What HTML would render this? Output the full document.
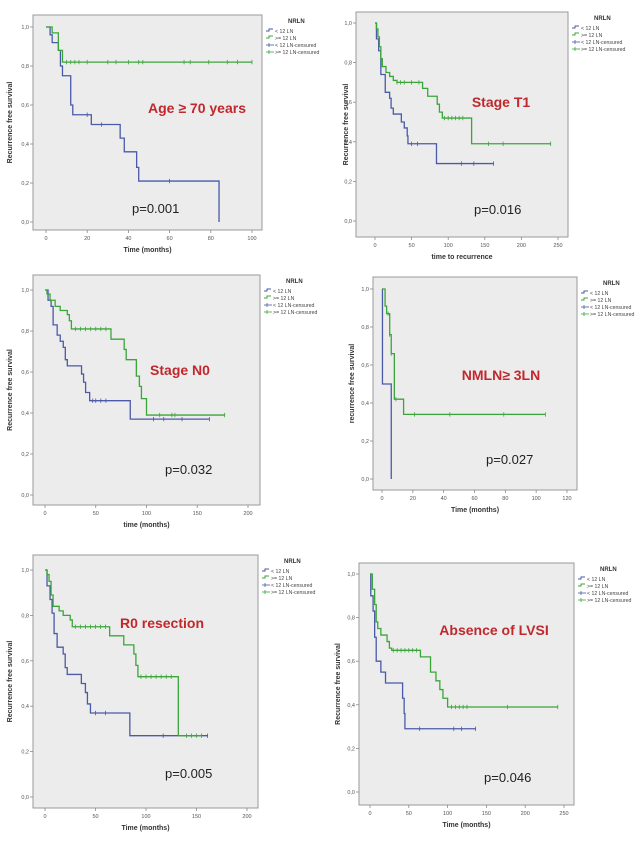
<!DOCTYPE html>
<html><head><meta charset="utf-8"><style>
html,body{margin:0;padding:0;background:#fff;}
svg{display:block;font-family:"Liberation Sans",sans-serif;}
</style></head><body>
<svg id="fig" width="642" height="847" viewBox="0 0 642 847" xmlns="http://www.w3.org/2000/svg"></svg>
<script>
// ---- data (time, survival after step) ----
const p1BlueT=[2,3,6,7,8,12,13,22,36,38,44,45,84];
const p1BlueS=[0.96,0.92,0.88,0.80,0.75,0.60,0.55,0.50,0.43,0.36,0.28,0.21,0.0];
const p1BlueEnd=84;
const p1BlueCens=[20,27,60];
const p1GreenT=[3,6,8];
const p1GreenS=[0.97,0.88,0.82];
const p1GreenEnd=100;
const p1GreenCens=[10,12,14,16,20,30,34,40,45,47,67,70,79,88,93,100];

const p2BlueT=[2,5,8,14,20,22,25,36,40,44,45,84];
const p2BlueS=[0.92,0.86,0.74,0.65,0.62,0.57,0.54,0.50,0.47,0.43,0.39,0.29];
const p2BlueEnd=162;
const p2BlueCens=[50,58,118,135,162];
const p2GreenT=[2,4,6,8,10,15,20,25,30,65,72,85,88,92,132];
const p2GreenS=[0.97,0.93,0.88,0.82,0.78,0.75,0.73,0.71,0.70,0.67,0.63,0.59,0.55,0.52,0.39];
const p2GreenEnd=240;
const p2GreenCens=[30,35,40,50,60,95,100,105,110,115,120,155,175,240];

const p3BlueT=[3,6,8,12,15,18,20,22,36,38,40,44,84];
const p3BlueS=[0.95,0.92,0.83,0.78,0.75,0.72,0.66,0.63,0.59,0.55,0.50,0.46,0.37];
const p3BlueEnd=162;
const p3BlueCens=[47,50,55,60,107,117,135,162];
const p3GreenT=[2,5,10,15,22,24,26,65,78,80,90,93,95,100];
const p3GreenS=[0.98,0.95,0.92,0.90,0.88,0.85,0.81,0.76,0.71,0.66,0.58,0.53,0.47,0.39];
const p3GreenEnd=177;
const p3GreenCens=[30,35,40,45,50,55,60,113,125,128,177];

const p4BlueT=[0.3,6];
const p4BlueS=[0.5,0.0];
const p4BlueEnd=6;
const p4BlueCens=[];
const p4GreenT=[2,3,5,6,8,14];
const p4GreenS=[0.91,0.87,0.76,0.66,0.42,0.34];
const p4GreenEnd=106;
const p4GreenCens=[4,5,6,9,21,44,79,106];

const p5BlueT=[2,5,7,9,12,18,20,22,36,40,42,45,84];
const p5BlueS=[0.93,0.87,0.81,0.72,0.66,0.63,0.57,0.54,0.50,0.46,0.41,0.37,0.27];
const p5BlueEnd=161;
const p5BlueCens=[50,60,117,161];
const p5GreenT=[2,4,6,8,14,18,25,27,64,78,88,90,92,132];
const p5GreenS=[0.98,0.95,0.89,0.84,0.82,0.80,0.78,0.75,0.71,0.67,0.63,0.58,0.53,0.27];
const p5GreenEnd=155;
const p5GreenCens=[30,35,40,45,50,55,60,95,100,105,110,115,120,125,140,145,150,155];

const p6BlueT=[1,4,6,8,14,20,42,44,45];
const p6BlueS=[0.90,0.83,0.71,0.60,0.55,0.50,0.43,0.36,0.29];
const p6BlueEnd=136;
const p6BlueCens=[64,108,118,136];
const p6GreenT=[3,6,8,10,14,22,25,28,65,78,85,90,94,100];
const p6GreenS=[0.93,0.86,0.78,0.75,0.72,0.69,0.66,0.65,0.62,0.55,0.51,0.47,0.43,0.39];
const p6GreenEnd=242;
const p6GreenCens=[30,35,40,45,50,55,60,105,110,115,120,125,177,242];

const yTickLabels=["0,0","0,2","0,4","0,6","0,8","1,0"];
const yTickVals=[0,0.2,0.4,0.6,0.8,1.0];
const legendLabels=["< 12 LN",">= 12 LN","< 12 LN-censured",">= 12 LN-censured"];

const panels=[
 {id:1,bx:33,by:15,bw:229,bh:215,x0:46,x1:252,xmax:100,xticks:[0,20,40,60,80,100],y1:27,y0:222,
  xt:"Time (months)",yt:"Recurrence free survival",title:"Age ≥ 70 years",tx:197,ty:113,pv:"p=0.001",px:132,py:213,
  b:[p1BlueT,p1BlueS,p1BlueEnd,p1BlueCens],g:[p1GreenT,p1GreenS,p1GreenEnd,p1GreenCens],ytx:12},
 {id:2,bx:356,by:12,bw:212,bh:225,x0:375,x1:558,xmax:250,xticks:[0,50,100,150,200,250],y1:23,y0:221,
  xt:"time to recurrence",yt:"Recurrence free survival",title:"Stage T1",tx:501,ty:107,pv:"p=0.016",px:474,py:214,
  b:[p2BlueT,p2BlueS,p2BlueEnd,p2BlueCens],g:[p2GreenT,p2GreenS,p2GreenEnd,p2GreenCens],ytx:348},
 {id:3,bx:33,by:275,bw:227,bh:230,x0:45,x1:248,xmax:200,xticks:[0,50,100,150,200],y1:290,y0:495,
  xt:"time (months)",yt:"Recurrence free survival",title:"Stage N0",tx:180,ty:375,pv:"p=0.032",px:165,py:474,
  b:[p3BlueT,p3BlueS,p3BlueEnd,p3BlueCens],g:[p3GreenT,p3GreenS,p3GreenEnd,p3GreenCens],ytx:12},
 {id:4,bx:373,by:277,bw:204,bh:213,x0:382,x1:567,xmax:120,xticks:[0,20,40,60,80,100,120],y1:289,y0:479,
  xt:"Time (months)",yt:"recurrence free survival",title:"NMLN≥ 3LN",tx:501,ty:380,pv:"p=0.027",px:486,py:464,
  b:[p4BlueT,p4BlueS,p4BlueEnd,p4BlueCens],g:[p4GreenT,p4GreenS,p4GreenEnd,p4GreenCens],ytx:354},
 {id:5,bx:33,by:555,bw:225,bh:253,x0:45,x1:247,xmax:200,xticks:[0,50,100,150,200],y1:570,y0:797,
  xt:"Time (months)",yt:"Recurrence free survival",title:"R0 resection",tx:162,ty:628,pv:"p=0.005",px:165,py:778,
  b:[p5BlueT,p5BlueS,p5BlueEnd,p5BlueCens],g:[p5GreenT,p5GreenS,p5GreenEnd,p5GreenCens],ytx:12},
 {id:6,bx:359,by:563,bw:215,bh:242,x0:370,x1:564,xmax:250,xticks:[0,50,100,150,200,250],y1:574,y0:792,
  xt:"Time (months)",yt:"Recurrence free survival",title:"Absence of LVSI",tx:494,ty:635,pv:"p=0.046",px:484,py:782,
  b:[p6BlueT,p6BlueS,p6BlueEnd,p6BlueCens],g:[p6GreenT,p6GreenS,p6GreenEnd,p6GreenCens],ytx:340}
];
const NS="http://www.w3.org/2000/svg";
const svg=document.getElementById('fig');
function mk(tag,attrs,parent){const e=document.createElementNS(NS,tag);for(const k in attrs)e.setAttribute(k,attrs[k]);(parent||svg).appendChild(e);return e;}
const BLUE="#4a5aa8",GREEN="#3aa63a";
panels.forEach(p=>{
  const g=mk('g',{});
  
  
  const sx=t=>p.x0+(t/p.xmax)*(p.x1-p.x0);
  const sy=s=>p.y0-(s)*(p.y0-p.y1);
  const box=mk('rect',{x:p.bx,y:p.by,width:p.bw,height:p.bh,fill:"#ececec",stroke:"#9a9a9a","stroke-width":1},g);
  
  
  yTickVals.forEach((v,i)=>{
    const y=sy(v);
    mk('line',{x1:p.bx-3,x2:p.bx,y1:y,y2:y,stroke:"#888","stroke-width":0.8},g);
    const t=mk('text',{x:p.bx-4,y:y+2,"font-size":5.5,fill:"#555","text-anchor":"end"},g);
    t.textContent=yTickLabels[i];
    
    
  });
  p.xticks.forEach(v=>{
    const x=sx(v);
    mk('line',{x1:x,x2:x,y1:p.by+p.bh,y2:p.by+p.bh+3,stroke:"#888","stroke-width":0.8},g);
    const t=mk('text',{x:x,y:p.by+p.bh+10,"font-size":5.5,fill:"#555","text-anchor":"middle"},g);
    t.textContent=String(v);
    
    
  });
  const xt=mk('text',{x:p.bx+p.bw/2,y:p.by+p.bh+22,"font-size":7,"font-weight":"bold",fill:"#333","text-anchor":"middle"},g);
  xt.textContent=p.xt;
  
  
  const ycy=p.by+p.bh/2;
  const yt=mk('text',{x:p.ytx,y:ycy,"font-size":7,"font-weight":"bold",fill:"#333","text-anchor":"middle",transform:`rotate(-90 ${p.ytx} ${ycy})`},g);
  yt.textContent=p.yt;
  
  
  [[p.b,BLUE,'blue'],[p.g,GREEN,'green']].forEach(([d,col,nm])=>{
    const [T,S,end,C]=d;
    let path=`M${sx(0)},${sy(1)}`;let cur=1;
    T.forEach((t,i)=>{path+=` H${sx(t)} V${sy(S[i])}`;cur=S[i];});
    path+=` H${sx(end)}`;
    const pe=mk('path',{d:path,fill:"none",stroke:col,"stroke-width":1.3},g);
    
    
    const stepAt=t=>{let s=1;T.forEach((tt,i)=>{if(tt<=t)s=S[i];});return s;};
    C.forEach(c=>{
      const x=sx(c),y=sy(stepAt(c));
      const m=mk('line',{x1:x,x2:x,y1:y-2.2,y2:y+2.2,stroke:col,"stroke-width":0.8},g);
      
      
    });
  });
  const ti=mk('text',{x:p.tx,y:p.ty,"font-size":14,"font-weight":"bold",fill:"#c0282d","text-anchor":"middle"},g);
  ti.textContent=p.title;
  
  
  const pv=mk('text',{x:p.px,y:p.py,"font-size":13,fill:"#222"},g);
  pv.textContent=p.pv;
  
  
  // legend
  const lx=p.bx+p.bw+4, ly=p.by+8;
  const lg=mk('g',{},g);
  
  
  const lt=mk('text',{x:lx+22,y:ly,"font-size":6,"font-weight":"bold",fill:"#333"},lg);
  lt.textContent="NRLN";
  legendLabels.forEach((lab,i)=>{
    const y=ly+8+i*7;const col=i%2===0?BLUE:GREEN;
    if(i<2){mk('path',{d:`M${lx},${y} H${lx+3} V${y-2} H${lx+7}`,fill:"none",stroke:col,"stroke-width":1},lg);}
    else{mk('line',{x1:lx,x2:lx+8,y1:y,y2:y,stroke:col,"stroke-width":0.8},lg);mk('line',{x1:lx+3,x2:lx+3,y1:y-2,y2:y+2,stroke:col,"stroke-width":0.8},lg);}
    const e=mk('text',{x:lx+9,y:y+2,"font-size":5.2,fill:"#444"},lg);
    e.textContent=lab;
    
    
  });
});
</script>
</body></html>
